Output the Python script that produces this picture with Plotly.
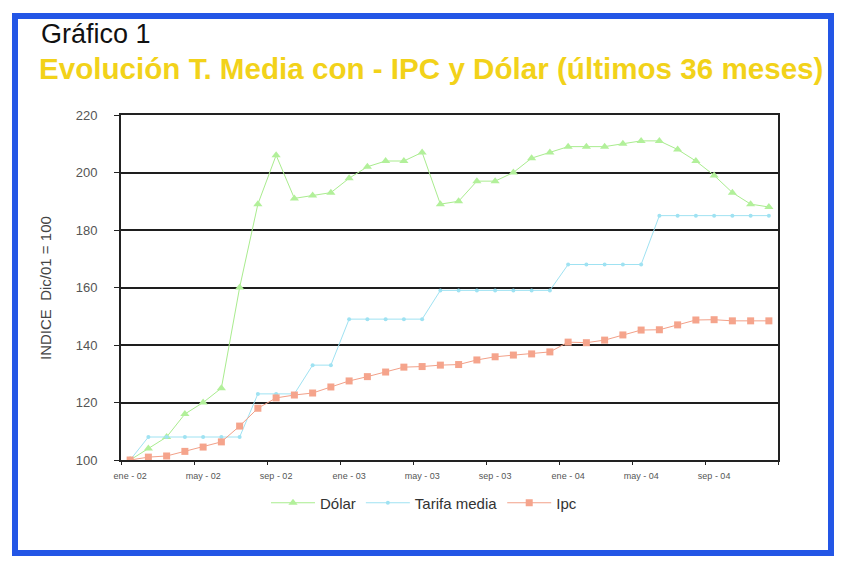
import plotly.graph_objects as go

# Meses (ene-02 .. dic-04)
meses_abrev = ["ene", "feb", "mar", "abr", "may", "jun",
               "jul", "ago", "sep", "oct", "nov", "dic"]
anios = ["02", "03", "04"]
meses = [f"{m} - {a}" for a in anios for m in meses_abrev]

# Índices, base Dic/01 = 100
dolar = [100, 104, 108, 116, 120, 125, 160, 189, 206, 191, 192, 193,
         198, 202, 204, 204, 207, 189, 190, 197, 197, 200, 205, 207,
         209, 209, 209, 210, 211, 211, 208, 204, 199, 193, 189, 188]
tarifa_media = [100, 108, 108, 108, 108, 108, 108, 123, 123, 123, 133, 133,
                149, 149, 149, 149, 149, 159, 159, 159, 159, 159, 159, 159,
                168, 168, 168, 168, 168, 185, 185, 185, 185, 185, 185, 185]
ipc = [100, 101, 101.4, 103, 104.5, 106.3, 111.8, 118, 121.6, 122.6, 123.3, 125.4,
       127.5, 129, 130.6, 132.3, 132.5, 133, 133.2, 134.8, 135.9, 136.5, 136.9, 137.6,
       141, 140.8, 141.7, 143.5, 145.2, 145.3, 147, 148.7, 148.8, 148.4, 148.4, 148.4]

# plot area in pixels
W, H = 842, 568
L, R, T, B = 121, 778, 115, 460


def px(x):
    return (x - L) / (R - L)


def py(y):
    return (B - y) / (B - T)


fig = go.Figure()
fig.add_trace(go.Scatter(
    x=meses, y=dolar, name="Dólar", mode="lines+markers",
    line=dict(color="#a9ec8e", width=1),
    marker=dict(symbol="triangle-up", size=8, color="#b2f09a"),
))
fig.add_trace(go.Scatter(
    x=meses, y=tarifa_media, name="Tarifa media", mode="lines+markers",
    line=dict(color="#9fe2f2", width=1),
    marker=dict(symbol="circle", size=4, color="#9fe2f2"),
))
fig.add_trace(go.Scatter(
    x=meses, y=ipc, name="Ipc", mode="lines+markers",
    line=dict(color="#f2a088", width=1),
    marker=dict(symbol="square", size=7, color="#f5a48c"),
))

fig.update_layout(
    width=W, height=H,
    margin=dict(l=L, r=W - R, t=T, b=H - B),
    paper_bgcolor="white", plot_bgcolor="white",
    font=dict(family="Liberation Sans, Arial, sans-serif", color="#333"),
    showlegend=True,
    legend=dict(orientation="h", x=px(424), y=py(503), xanchor="center", yanchor="middle",
                font=dict(size=15, color="#333"), bgcolor="rgba(0,0,0,0)",
                itemwidth=44, tracegroupgap=0),
    xaxis=dict(
        type="category", tickson="boundaries", tickmode="linear", tick0=0, dtick=4,
        range=[-0.5, 35.5], showgrid=False, zeroline=False,
        showline=True, linecolor="#222", linewidth=2, mirror=True,
        ticks="outside", ticklen=3, tickcolor="#222", tickwidth=1,
        tickfont=dict(size=9, color="#555"), tickangle=0, ticklabelstandoff=6,
    ),
    yaxis=dict(
        range=[100, 220], tickmode="linear", tick0=100, dtick=20,
        showgrid=True, gridcolor="#1e1e1e", gridwidth=2, zeroline=False,
        showline=True, linecolor="#222", linewidth=2, mirror=True,
        ticks="outside", ticklen=5, tickcolor="#222", tickwidth=1,
        tickfont=dict(size=13, color="#555"), ticklabelstandoff=14,
    ),
    annotations=[
        dict(text="Gráfico 1", xref="paper", yref="paper", x=px(39), y=py(34),
             xanchor="left", yanchor="middle", showarrow=False,
             font=dict(size=27, color="#111")),
        dict(text="<b>Evolución T. Media con - IPC y Dólar (últimos 36 meses)</b>",
             xref="paper", yref="paper", x=px(37), y=py(68),
             xanchor="left", yanchor="middle", showarrow=False,
             font=dict(size=29.6, color="#f2d21a")),
        dict(text="INDICE\u00a0\u00a0Dic/01 = 100", xref="paper", yref="paper",
             x=px(45), y=py(288), textangle=-90, xanchor="center", yanchor="middle",
             showarrow=False, font=dict(size=15, color="#444")),
    ],
    shapes=[
        dict(type="rect", xref="paper", yref="paper", layer="above",
             x0=px(15), x1=px(831), y0=py(553), y1=py(16),
             line=dict(color="#2356e6", width=6), fillcolor="rgba(0,0,0,0)"),
    ],
)

fig.write_html("out.html")
